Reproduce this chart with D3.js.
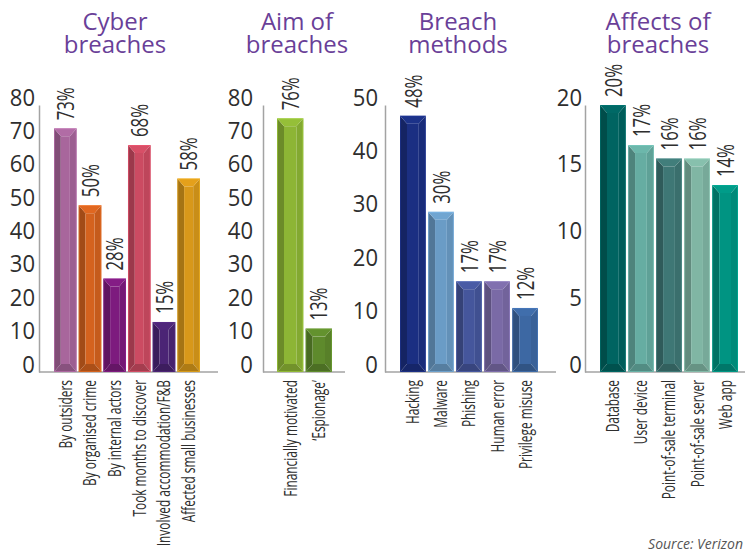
<!DOCTYPE html>
<html>
<head>
<meta charset="utf-8">
<script src="https://cdn.jsdelivr.net/npm/d3@7"></script>
<style>
  body { margin: 0; background: #fff; }
  svg { display: block; }
</style>
</head>
<body>
<svg id="chart" width="745" height="549"></svg>
<script>
// ---- Data ----
const cyberTitle = ["Cyber", "breaches"];
const cyberCategories = ["By outsiders", "By organised crime", "By internal actors", "Took months to discover", "Involved accommodation/F&B", "Affected small businesses"];
const cyberValues = [73, 50, 28, 68, 15, 58];
const cyberColors = ["#a8669c", "#d4621e", "#7d1b7e", "#cc4b62", "#4b2475", "#d8981a"];
const cyberTicks = [0, 10, 20, 30, 40, 50, 60, 70, 80];

const aimTitle = ["Aim of", "breaches"];
const aimCategories = ["Financially motivated", "\u2018Espionage\u2019"];
const aimValues = [76, 13];
const aimColors = ["#8db535", "#5e8a2c"];
const aimTicks = [0, 10, 20, 30, 40, 50, 60, 70, 80];

const methodTitle = ["Breach", "methods"];
const methodCategories = ["Hacking", "Malware", "Phishing", "Human error", "Privilege misuse"];
const methodValues = [48, 30, 17, 17, 12];
const methodColors = ["#1b2f82", "#6a9cc6", "#45569c", "#7a6aa6", "#3d68a3"];
const methodTicks = [0, 10, 20, 30, 40, 50];

const affectTitle = ["Affects of", "breaches"];
const affectCategories = ["Database", "User device", "Point-of-sale terminal", "Point-of-sale server", "Web app"];
const affectValues = [20, 17, 16, 16, 14];
const affectColors = ["#006461", "#66ada2", "#3e7775", "#80b6a4", "#009482"];
const affectTicks = [0, 5, 10, 15, 20];

const sourceText = "Source: Verizon";

// ---- Panel geometry ----
const panels = [
  { title: cyberTitle, cats: cyberCategories, vals: cyberValues, colors: cyberColors, ticks: cyberTicks,
    axisX: 39, axisEnd: 218, barRange: [54, 200], titleX: 115, gap: 4 },
  { title: aimTitle, cats: aimCategories, vals: aimValues, colors: aimColors, ticks: aimTicks,
    axisX: 263, axisEnd: 345, barRange: [277, 332], titleX: 297, gap: 10 },
  { title: methodTitle, cats: methodCategories, vals: methodValues, colors: methodColors, ticks: methodTicks,
    axisX: 385, axisEnd: 556, barRange: [400, 538], titleX: 458, gap: 7 },
  { title: affectTitle, cats: affectCategories, vals: affectValues, colors: affectColors, ticks: affectTicks,
    axisX: 585, axisEnd: 745, barRange: [600, 738], titleX: 658, gap: 3 }
];

const yTop = 105, yBase = 372, catLabelY = 380;
const FONT = "'Open Sans', 'Noto Sans', sans-serif";
const svg = d3.select("#chart");

// Bevelled bar: four sloped facets around a flat face
function drawBar(g, x0, x1, yT, yB, base) {
  const c = d3.color(base);
  const w = x1 - x0, h = yB - yT;
  const i = Math.min(7, w * 0.3);
  const v = Math.min(8, h / 2);
  const face = [[x0 + i, yT + v], [x1 - i, yT + v], [x1 - i, yB - v], [x0 + i, yB - v]];
  const facets = [
    { pts: [[x0, yT], [x0 + i, yT + v], [x0 + i, yB - v], [x0, yB]], fill: c.darker(0.75) },
    { pts: [[x1, yT], [x1 - i, yT + v], [x1 - i, yB - v], [x1, yB]], fill: c.darker(0.2) },
    { pts: [[x0, yT], [x1, yT], [x1 - i, yT + v], [x0 + i, yT + v]], fill: c.brighter(0.15) },
    { pts: [[x0, yB], [x1, yB], [x1 - i, yB - v], [x0 + i, yB - v]], fill: c.darker(0.6) },
    { pts: face, fill: c }
  ];
  g.selectAll(null).data(facets).enter().append("polygon")
    .attr("points", d => d.pts.map(p => p.join(",")).join(" "))
    .attr("fill", d => d.fill);
  g.append("rect")
    .attr("x", x0 + 0.5).attr("y", yT + 0.5)
    .attr("width", w - 1).attr("height", h - 1)
    .attr("fill", "none")
    .attr("stroke", c.brighter(0.6)).attr("stroke-opacity", 0.5).attr("stroke-width", 1);
}

panels.forEach(p => {
  const g = svg.append("g");
  const y = d3.scaleLinear().domain([0, d3.max(p.ticks)]).range([yBase, yTop]);
  const x = d3.scaleBand().domain(p.cats).range(p.barRange).paddingInner(0.08).paddingOuter(0);

  // Two-line panel title
  g.selectAll(null).data(p.title).enter().append("text")
    .attr("x", p.titleX)
    .attr("y", (d, k) => 30 + k * 23)
    .attr("text-anchor", "middle")
    .attr("font-family", FONT).attr("font-size", 24)
    .attr("fill", "#6a3f98")
    .text(d => d);

  // Baseline
  g.append("line")
    .attr("x1", p.axisX).attr("x2", p.axisEnd)
    .attr("y1", yBase).attr("y2", yBase)
    .attr("stroke", "#a3a3a3").attr("stroke-width", 1.5);

  // Value axis
  const ax = g.append("g").attr("transform", `translate(${p.axisX},0)`)
    .call(d3.axisLeft(y).tickValues(p.ticks).tickSize(0).tickSizeOuter(0).tickPadding(p.gap));
  ax.select(".domain").attr("stroke", "#a3a3a3").attr("stroke-width", 1.5);
  ax.selectAll(".tick text")
    .attr("x", 0).attr("dy", "0")
    .attr("transform", `translate(${-p.gap},0) scale(0.92,1)`)
    .attr("font-family", FONT).attr("font-size", 24)
    .attr("fill", "#2e2e2e");

  // Bars
  p.cats.forEach((cat, k) => {
    drawBar(g, x(cat), x(cat) + x.bandwidth(), y(p.vals[k]), yBase, p.colors[k]);
  });

  // Value labels
  g.selectAll(null).data(p.cats).enter().append("text")
    .attr("transform", (d, k) => `translate(${x(d) + x.bandwidth() / 2},${y(p.vals[k]) - 8}) rotate(-90) scale(0.7,1)`)
    .attr("dy", "0.36em")
    .attr("text-anchor", "start")
    .attr("font-family", FONT).attr("font-size", 24)
    .attr("fill", "#2e2e2e")
    .text((d, k) => p.vals[k] + "%");

  // Category labels
  g.selectAll(null).data(p.cats).enter().append("text")
    .attr("transform", d => `translate(${x(d) + x.bandwidth() / 2},${catLabelY}) rotate(-90) scale(0.66,1)`)
    .attr("dy", "0.36em")
    .attr("text-anchor", "end")
    .attr("font-family", FONT).attr("font-size", 18)
    .attr("fill", "#2e2e2e")
    .text(d => d);
});

// Source note
svg.append("text")
  .attr("x", 743).attr("y", 549)
  .attr("text-anchor", "end")
  .attr("font-family", FONT).attr("font-size", 14)
  .attr("font-style", "italic")
  .attr("fill", "#555")
  .text(sourceText);
</script>
</body>
</html>
